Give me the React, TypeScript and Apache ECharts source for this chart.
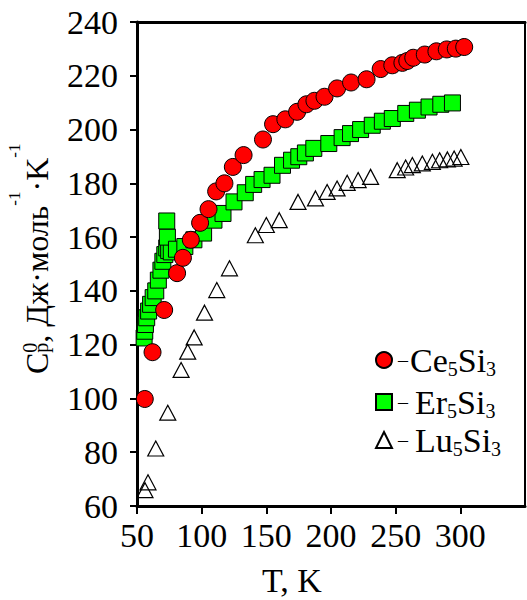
import React, { useEffect, useRef } from "react";
import * as echarts from "echarts";

// T (K), Cp (J/(mol K))
const ce5si3: [number, number][] = [
  [56, 99.8], [62, 117.2], [71, 132.9], [81, 146.6], [85.5, 152.3], [91.6, 159],
  [98.8, 165.3], [105.3, 170.4], [111.2, 177], [117.6, 180], [124.1, 186.1],
  [132.4, 190.5], [147.4, 196.3], [155.2, 202], [164.7, 203.8], [173.8, 206.6],
  [181, 209.4], [187.2, 210.7], [195, 212.2], [204.7, 215.3], [215.5, 217.5],
  [227.5, 218.7], [238.4, 222.5], [247.4, 223.9], [255.2, 224.8], [259, 225.5],
  [263.6, 226.7], [272.5, 227.9], [281.5, 229.1], [289.5, 229.8], [296.5, 230.1],
  [303, 230.7],
];

const er5si3: [number, number][] = [
  [55.5, 122.5], [56, 125], [56.5, 127.5], [57.5, 130], [59, 132.5], [60.5, 135],
  [62.5, 137.5], [64.5, 140], [66.5, 144], [68.5, 147.7], [70, 151], [71.5, 153.5],
  [73, 156], [74.5, 155], [76.5, 154.5], [73.5, 160], [73, 166], [80.5, 155.5],
  [87, 156.5], [94, 159], [101.5, 161.5], [109.5, 166.3], [116.5, 168.8], [125, 173.1],
  [133.7, 176.5], [140.2, 179.6], [146.7, 181.4], [154.4, 183], [162.5, 186.7],
  [169.5, 188.6], [175.1, 189.9], [180.2, 191.3], [186.7, 193], [198.3, 194.8],
  [208.6, 197], [215.1, 198.5], [222.9, 200], [231.9, 201.6], [239.7, 203.1],
  [247.4, 204.1], [257.8, 206], [266.8, 207.2], [275.8, 208.4], [284.9, 209.4],
  [293.9, 209.9],
];

const lu5si3: [number, number][] = [
  [56.2, 65.9], [58.5, 68.8], [64.5, 81.4], [73.8, 94.7], [84.1, 110.6], [89.2, 117.4],
  [94.2, 122.7], [102.2, 131.9], [111.7, 140.3], [121.5, 148.4], [141.5, 160.7],
  [150, 164.5], [160, 166.3], [174.5, 173.1], [188, 174.4], [197, 176.8],
  [204.7, 178.1], [212.5, 180.2], [221, 181.2], [230.6, 182.4], [251.2, 184.9],
  [257.7, 185.9], [262.9, 186.8], [270.6, 187.4], [278.4, 188], [284, 188.6],
  [290, 188.9], [295.2, 189.2], [300.4, 189.8],
];

const xTicks = [50, 100, 150, 200, 250, 300];
const yTicks = [60, 80, 100, 120, 140, 160, 180, 200, 220, 240];

const SERIF = "Liberation Serif";

export default function App() {
  const ref = useRef<HTMLDivElement>(null);

  useEffect(() => {
    const chart = echarts.init(ref.current!, null, { renderer: "svg" });

    const legendRich = {
      d: { fontSize: 20, fontFamily: SERIF, color: "#000", lineHeight: 40, padding: [0, 2, 0, 1] },
      m: { fontSize: 34, fontFamily: SERIF, color: "#000", lineHeight: 40 },
      s: { fontSize: 20, fontFamily: SERIF, color: "#000", lineHeight: 10, verticalAlign: "bottom", padding: [0, 0, 1, 0] },
    };
    const legendBase = {
      orient: "vertical",
      padding: 0,
      itemWidth: 16,
      itemHeight: 16,
      selectedMode: false,
      left: 375,
      textStyle: { fontSize: 34, fontFamily: SERIF, color: "#000", rich: legendRich },
    };

    // line height 64 -> line centre at 32 from line top
    const titleRich = {
      m: { fontSize: 32, fontFamily: SERIF, fill: "#000", lineHeight: 64 },
      p: { fontSize: 20, fontFamily: SERIF, fill: "#000", lineHeight: 10, verticalAlign: "bottom", padding: [0, 0, 18, 0] },
      s1: { fontSize: 17, fontFamily: SERIF, fill: "#000", lineHeight: 10, verticalAlign: "top", padding: [1, 0, 0, 0] },
    };
    const zeroRich = {
      mt: { fontSize: 32, fontFamily: SERIF, fill: "rgba(0,0,0,0)", lineHeight: 64 },
      z: { fontSize: 20, fontFamily: SERIF, fill: "#000", lineHeight: 10, verticalAlign: "top", padding: [15, 0, 0, 0] },
    };

    const option: any = {
      animation: false,
      backgroundColor: "#fff",
      textStyle: { fontFamily: SERIF },
      grid: { left: 137, right: 2, top: 22, bottom: 94, outerBoundsMode: "none", containLabel: false },
      xAxis: [
        {
          type: "value",
          min: 50,
          max: 350,
          interval: 50,
          position: "bottom",
          axisLine: { show: true, onZero: false, lineStyle: { color: "#000", width: 3 } },
          axisTick: { show: true, length: 8, inside: false, lineStyle: { color: "#000", width: 2 }, customValues: xTicks },
          axisLabel: {
            customValues: xTicks,
            fontSize: 34,
            fontFamily: SERIF,
            color: "#000",
            margin: 12,
            formatter: (v: number) => (v > 300 ? "" : String(v)),
          },
          splitLine: { show: false },
        },
        {
          type: "value",
          min: 50,
          max: 350,
          position: "top",
          axisLine: { show: true, onZero: false, lineStyle: { color: "#000", width: 3 } },
          axisTick: { show: false },
          axisLabel: { show: false },
          splitLine: { show: false },
        },
      ],
      yAxis: [
        {
          type: "value",
          min: 60,
          max: 240,
          interval: 20,
          position: "left",
          axisLine: { show: true, onZero: false, lineStyle: { color: "#000", width: 3 } },
          axisTick: { show: true, length: 7, inside: false, lineStyle: { color: "#000", width: 2 }, customValues: yTicks },
          axisLabel: { customValues: yTicks, fontSize: 34, fontFamily: SERIF, color: "#000", margin: 19 },
          splitLine: { show: false },
        },
        {
          type: "value",
          min: 60,
          max: 240,
          position: "right",
          axisLine: { show: true, onZero: false, lineStyle: { color: "#000", width: 2 } },
          axisTick: { show: false },
          axisLabel: { show: false },
          splitLine: { show: false },
        },
      ],
      legend: [
        {
          ...legendBase,
          top: 343,
          icon: "circle",
          data: ["Ce5Si3"],
          formatter: () => "{d|–}{m|Ce}{s|5}{m|Si}{s|3}",
        },
        {
          ...legendBase,
          top: 385,
          icon: "rect",
          data: ["Er5Si3"],
          formatter: () => "{d|– }{m|Er}{s|5}{m|Si}{s|3}",
        },
        {
          ...legendBase,
          top: 423,
          icon: "triangle",
          data: ["Lu5Si3"],
          formatter: () => "{d|– }{m|Lu}{s|5}{m|Si}{s|3}",
        },
      ],
      series: [
        {
          name: "Er5Si3",
          type: "scatter",
          data: er5si3,
          symbol: "rect",
          symbolSize: 16,
          itemStyle: { color: "#00FF00", borderColor: "#000", borderWidth: 1, opacity: 1 },
          z: 2,
        },
        {
          name: "Ce5Si3",
          type: "scatter",
          data: ce5si3,
          symbol: "circle",
          symbolSize: 17,
          itemStyle: { color: "#FF0000", borderColor: "#000", borderWidth: 1, opacity: 1 },
          z: 3,
        },
        {
          name: "Lu5Si3",
          type: "scatter",
          data: lu5si3,
          symbol: "triangle",
          symbolSize: [16, 15],
          itemStyle: { color: "rgba(255,255,255,0)", borderColor: "#000", borderWidth: 1.2, opacity: 1 },
          z: 2,
        },
      ],
      graphic: [
        {
          type: "text",
          x: 292,
          y: 580,
          style: {
            text: "T, K",
            fontSize: 34,
            fontFamily: SERIF,
            fill: "#000",
            align: "center",
            verticalAlign: "middle",
          },
        },
        {
          type: "group",
          x: 37,
          y: 374,
          rotation: Math.PI / 2,
          children: [
            {
              type: "text",
              x: 0,
              y: 0,
              style: {
                text: "{m|C}{p|p}{m|, Дж·моль}{s1|-1}{m|·K}{s1|-1}",
                rich: titleRich,
                fontSize: 32,
                fontFamily: SERIF,
                fill: "#000",
                align: "left",
                verticalAlign: "middle",
              },
            },
            {
              type: "text",
              x: 0,
              y: 0,
              style: {
                text: "{mt|C}{z|0}",
                rich: zeroRich,
                fontSize: 32,
                fontFamily: SERIF,
                fill: "#000",
                align: "left",
                verticalAlign: "middle",
              },
            },
          ],
        },
      ],
    };

    chart.setOption(option);
    return () => chart.dispose();
  }, []);

  return (
    <div
      ref={ref}
      style={{ position: "absolute", left: 0, top: 0, width: 527, height: 600 }}
    />
  );
}
